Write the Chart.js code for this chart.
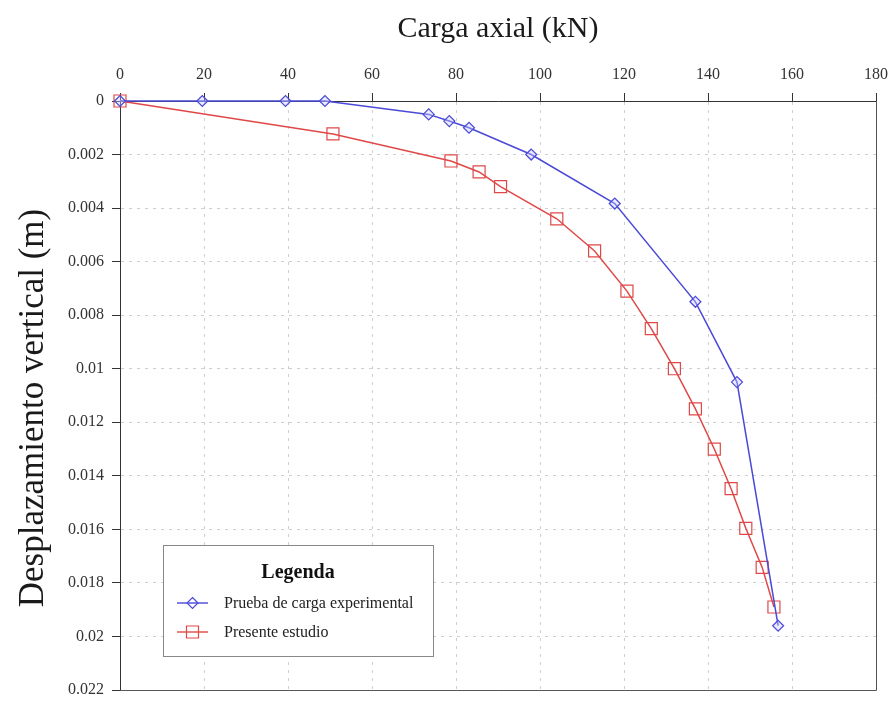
<!DOCTYPE html>
<html>
<head>
<meta charset="utf-8">
<script src="https://cdn.jsdelivr.net/npm/chart.js@4.4.1/dist/chart.umd.min.js"></script>
<style>
  body { margin: 0; background: #fff; }
  .wrap { width: 893px; height: 702px; }
</style>
</head>
<body>
<div class="wrap"><canvas id="myChart"></canvas></div>
<script>
// datos
const cargaExp = [0, 19.6, 39.4, 48.8, 73.5, 78.4, 83.1, 97.9, 117.8, 137, 146.9, 156.7];
const despExp  = [0, 0, 0, 0, 0.0005, 0.00075, 0.001, 0.002, 0.00383, 0.0075, 0.0105, 0.0196];

const cargaEst = [0, 50.7, 78.8, 85.5, 90.6, 104, 113, 120.7, 126.5, 132, 137, 141.5, 145.5, 149, 152.9, 155.7];
const despEst  = [0, 0.00123, 0.00224, 0.00265, 0.0032, 0.0044, 0.0056, 0.0071, 0.0085, 0.01, 0.0115, 0.013, 0.01448, 0.01596, 0.01742, 0.0189];

const xTicks = [0, 20, 40, 60, 80, 100, 120, 140, 160, 180];
const yTicks = [0, 0.002, 0.004, 0.006, 0.008, 0.01, 0.012, 0.014, 0.016, 0.018, 0.02, 0.022];

const serif = 'Liberation Serif';
const tituloY = 'Desplazamiento vertical (m)';

function pares(xs, ys) {
  return xs.map((x, i) => ({ x: x, y: ys[i] }));
}

// marco derecho/inferior, titulo del eje y, leyenda
const marco = {
  id: 'marco',
  afterDraw(chart) {
    const c = chart.ctx;
    const a = chart.chartArea;
    c.save();
    c.strokeStyle = '#555';
    c.lineWidth = 1;
    c.beginPath();
    c.moveTo(a.right + 0.5, a.top);
    c.lineTo(a.right + 0.5, a.bottom + 0.5);
    c.lineTo(a.left, a.bottom + 0.5);
    c.stroke();

    // titulo vertical
    c.save();
    c.translate(34, 408);
    c.rotate(-Math.PI / 2);
    c.fillStyle = '#1a1a1a';
    c.font = '35px ' + serif;
    c.textAlign = 'center';
    c.textBaseline = 'middle';
    c.fillText(tituloY, 0, 0);
    c.restore();

    // leyenda
    const bx = 163, by = 545, bw = 270, bh = 111;
    c.fillStyle = '#fff';
    c.fillRect(bx, by, bw, bh);
    c.strokeStyle = '#888';
    c.strokeRect(bx + 0.5, by + 0.5, bw, bh);

    c.fillStyle = '#111';
    c.font = 'bold 20px ' + serif;
    c.textAlign = 'center';
    c.textBaseline = 'middle';
    c.fillText('Legenda', bx + 135, by + 28);

    c.font = '16px ' + serif;
    c.textAlign = 'left';
    chart.data.datasets.forEach((ds, i) => {
      const yy = by + 58 + i * 29;
      c.strokeStyle = ds.borderColor;
      c.lineWidth = 1.4;
      c.beginPath();
      c.moveTo(bx + 14, yy);
      c.lineTo(bx + 45, yy);
      c.stroke();
      const mx = bx + 29.5;
      c.beginPath();
      if (ds.pointStyle === 'rect') {
        const s = ds.pointRadius * Math.SQRT1_2;
        c.rect(mx - s, yy - s, 2 * s, 2 * s);
      } else {
        const r = ds.pointRadius;
        c.moveTo(mx, yy - r);
        c.lineTo(mx + r, yy);
        c.lineTo(mx, yy + r);
        c.lineTo(mx - r, yy);
        c.closePath();
      }
      c.lineWidth = ds.pointBorderWidth;
      c.stroke();
      c.fillStyle = '#222';
      c.fillText(ds.label, bx + 61, yy + 1);
    });
    c.restore();
  }
};

const ctx = document.getElementById('myChart');

new Chart(ctx, {
  type: 'line',
  data: {
    datasets: [
      {
        label: 'Prueba de carga experimental',
        data: pares(cargaExp, despExp),
        borderColor: '#4a4ad6',
        backgroundColor: 'rgba(255,255,255,0)',
        borderWidth: 1.5,
        pointStyle: 'rectRot',
        pointRadius: 5.5,
        pointBorderWidth: 1.2,
        pointBackgroundColor: 'rgba(200,200,255,0.4)',
        pointBorderColor: '#4a4ad6',
        tension: 0,
        clip: false
      },
      {
        label: 'Presente estudio',
        data: pares(cargaEst, despEst),
        borderColor: '#e04848',
        backgroundColor: 'rgba(255,255,255,0)',
        borderWidth: 1.5,
        pointStyle: 'rect',
        pointRadius: 8.5,
        pointBorderWidth: 1.2,
        pointBackgroundColor: 'rgba(255,255,255,0)',
        pointBorderColor: '#e04848',
        tension: 0,
        clip: false
      }
    ]
  },
  options: {
    responsive: true,
    maintainAspectRatio: false,
    animation: false,
    devicePixelRatio: 1,
    layout: {
      padding: { left: 0, top: 0, right: 17, bottom: 12 }
    },
    plugins: {
      legend: { display: false },
      tooltip: { enabled: false }
    },
    scales: {
      x: {
        type: 'linear',
        position: 'top',
        min: 0,
        max: 180,
        afterBuildTicks: s => { s.ticks = xTicks.map(v => ({ value: v })); },
        afterFit: s => { s.height = 101; s.paddingLeft = 0; s.paddingRight = 0; },
        ticks: {
          color: '#333',
          padding: 9,
          maxRotation: 0,
          font: { family: serif, size: 16 }
        },
        grid: {
          color: '#cfcfcf',
          tickColor: '#333',
          tickLength: 8,
          tickBorderDash: []
        },
        border: {
          display: true,
          color: '#333',
          dash: [3, 5]
        },
        title: {
          display: true,
          text: 'Carga axial (kN)',
          color: '#1a1a1a',
          font: { family: serif, size: 30 },
          padding: { top: 11, bottom: 0 }
        }
      },
      y: {
        type: 'linear',
        reverse: true,
        min: 0,
        max: 0.022,
        afterBuildTicks: s => { s.ticks = yTicks.map(v => ({ value: v })); },
        afterFit: s => { s.width = 120; s.paddingTop = 0; s.paddingBottom = 0; },
        ticks: {
          color: '#333',
          padding: 8,
          font: { family: serif, size: 16 },
          callback: v => String(parseFloat(Number(v).toFixed(4)))
        },
        grid: {
          color: '#cfcfcf',
          tickColor: '#333',
          tickLength: 8,
          tickBorderDash: []
        },
        border: {
          display: true,
          color: '#333',
          dash: [3, 5]
        },
        title: { display: false }
      }
    }
  },
  plugins: [marco]
});
</script>
</body>
</html>
